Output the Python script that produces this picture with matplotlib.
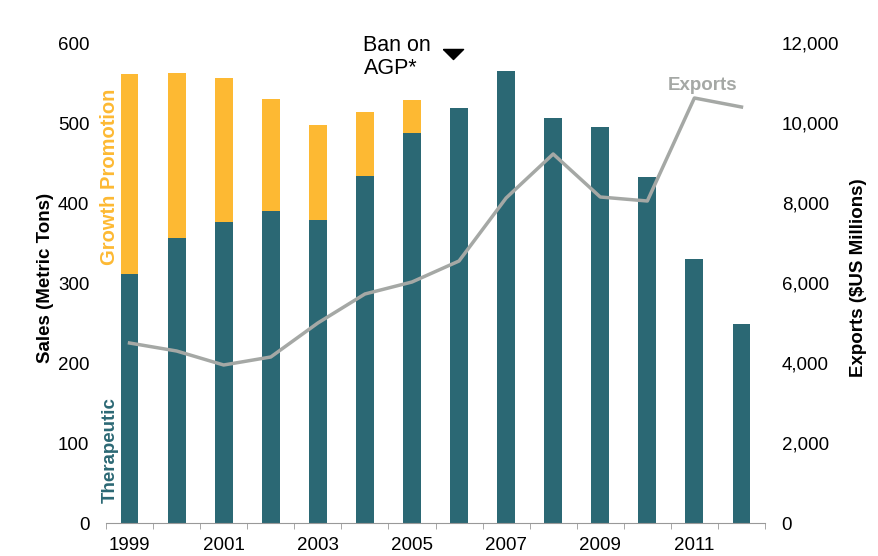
import matplotlib
matplotlib.use("Agg")
import matplotlib.pyplot as plt
import numpy as np

plt.rcParams['font.family'] = ['Liberation Sans', 'DejaVu Sans']

years = list(range(1999, 2013))
therapeutic = [311, 356, 376, 390, 379, 434, 487, 519, 565, 506, 495, 432, 330, 249]
total_sales = [561, 562, 556, 530, 497, 514, 529, 519, 565, 506, 495, 432, 330, 249]
growth_promotion = [t - th for t, th in zip(total_sales, therapeutic)]
exports = [4500, 4300, 3950, 4150, 5000, 5725, 6025, 6550, 8125, 9225, 8150, 8050, 10625, 10400]
xtick_labels = ['1999', '2001', '2003', '2005', '2007', '2009', '2011']

teal = '#2B6874'
orange = '#FDB933'
gray = '#A5A8A5'
fs = 13.5

fig = plt.figure(figsize=(8.79, 5.56), dpi=100)
ax = fig.add_axes([106/879, 33/556, 659/879, 490/556])
x = np.arange(len(years))
ax.bar(x, therapeutic, width=0.38, color=teal, zorder=2)
ax.bar(x, growth_promotion, bottom=therapeutic, width=0.38, color=orange, zorder=2)
ax.set_xlim(-0.5, len(years) - 0.5)
ax.set_ylim(0, 612.5)
ax.set_yticks([0, 100, 200, 300, 400, 500, 600])
ax.tick_params(axis='y', length=0, labelsize=fs, pad=12)
ax.set_xticks(x[::2])
ax.set_xticklabels(xtick_labels, fontsize=fs)
ax.set_xticks(np.arange(len(years) + 1) - 0.5, minor=True)
ax.tick_params(axis='x', which='major', length=0, pad=10)
ax.tick_params(axis='x', which='minor', length=4, color='#999999', direction='out')
for s in ['top', 'left', 'right']:
    ax.spines[s].set_visible(False)
ax.spines['bottom'].set_color('#999999')
ax.set_ylabel('Sales (Metric Tons)', fontsize=fs, fontweight='bold', labelpad=3)

ax2 = ax.twinx()
ax2.plot(x, exports, color=gray, lw=2.5, zorder=3)
ax2.set_ylim(0, 12250)
ax2.set_yticks([0, 2000, 4000, 6000, 8000, 10000, 12000])
ax2.set_yticklabels(['0', '2,000', '4,000', '6,000', '8,000', '10,000', '12,000'])
ax2.tick_params(axis='y', length=0, labelsize=fs, pad=12)
for s in ['top', 'left', 'right', 'bottom']:
    ax2.spines[s].set_visible(False)
ax2.set_ylabel('Exports ($US Millions)', fontsize=fs, fontweight='bold', labelpad=8)

ax.text(-0.42, 322, 'Growth Promotion', rotation=90, color=orange, fontsize=14.5,
        fontweight='bold', ha='center', va='bottom')
ax.text(-0.42, 25, 'Therapeutic', rotation=90, color=teal, fontsize=fs,
        fontweight='bold', ha='center', va='bottom')
ax.text(4.97, 610, 'Ban on\nAGP*', fontsize=15.5, ha='left', va='top', linespacing=1.15)
tri = [(-1, 0.5), (1, 0.5), (0, -0.5), (-1, 0.5)]
ax.plot([6.87], [586], marker=tri, color='black', markersize=14.5, clip_on=False)
ax2.text(12.18, 10950, 'Exports', color=gray, fontsize=fs, fontweight='bold',
         ha='center', va='center')

fig.savefig('out.png', dpi=100)
